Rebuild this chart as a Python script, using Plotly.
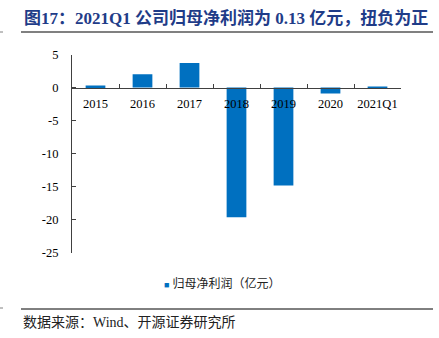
import plotly.graph_objects as go

categories = ["2015", "2016", "2017", "2018", "2019", "2020", "2021Q1"]
profit = [0.3, 2.0, 3.7, -19.6, -14.8, -0.9, 0.13]
series_name = "归母净利润（亿元）"
y_ticks = [5, 0, -5, -10, -15, -20, -25]
bar_color = "#0070C0"

W, H = 439, 338
def px(x): return x / W
def py(y): return 1 - y / H

fig = go.Figure()
fig.add_trace(go.Bar(
    x=categories, y=profit, name=series_name,
    marker=dict(color=bar_color, line=dict(width=0)),
    width=0.42, showlegend=False,
))

y_top, y_bot = 54.5, 253
zero_pos = py(y_bot) + (25 / 30) * (py(y_top) - py(y_bot))

serif = "Liberation Serif, Noto Sans CJK SC, serif"
fig.update_layout(
    width=W, height=H,
    margin=dict(l=0, r=0, t=0, b=0),
    paper_bgcolor="white", plot_bgcolor="white",
    font=dict(family=serif, color="#000000", size=12),
    xaxis=dict(domain=[px(72), px(401)], anchor="free", position=zero_pos,
               showline=True, linecolor="#404040", linewidth=1,
               ticks="inside", ticklen=4, tickcolor="#404040", tickson="boundaries",
               tickfont=dict(size=12.5, family=serif), tickangle=0,
               showgrid=False, zeroline=False,
               ticklabelstandoff=4, automargin=False),
    yaxis=dict(domain=[py(y_bot), py(y_top)], range=[-25, 5],
               tickvals=y_ticks, ticktext=[str(v) for v in y_ticks],
               showline=True, linecolor="#404040", linewidth=1,
               ticks="inside", ticklen=4, tickcolor="#404040",
               tickfont=dict(size=12.5, family=serif), showgrid=False, zeroline=False,
               ticklabelstandoff=10, automargin=False),
)

fig.add_annotation(
    x=px(22), y=py(18), xref="paper", yref="paper", xanchor="left", yanchor="middle",
    text="<b>图17：2021Q1 公司归母净利润为 0.13 亿元，扭负为正</b>",
    showarrow=False, font=dict(size=17, color="#1F3C88", family=serif),
)
# legend
fig.add_annotation(
    x=px(162), y=py(283), xref="paper", yref="paper", xanchor="left", yanchor="middle",
    text=f"<span style='color:{bar_color};font-size:9px'>■</span> {series_name}",
    showarrow=False, font=dict(size=12, color="#222", family=serif),
)
fig.add_annotation(
    x=px(21), y=py(322), xref="paper", yref="paper", xanchor="left", yanchor="middle",
    text="数据来源：Wind、开源证券研究所",
    showarrow=False, font=dict(size=14, color="#222", family=serif),
)
fig.add_shape(type="line", xref="paper", yref="paper",
              x0=px(21), x1=px(433), y0=py(32), y1=py(32),
              line=dict(color="#808080", width=2))
fig.add_shape(type="line", xref="paper", yref="paper",
              x0=px(21), x1=px(433), y0=py(309), y1=py(309),
              line=dict(color="#000000", width=1))
fig.add_shape(type="line", xref="paper", yref="paper",
              x0=0, x1=px(3), y0=py(32), y1=py(32),
              line=dict(color="#808080", width=1))
fig.add_shape(type="line", xref="paper", yref="paper",
              x0=0, x1=px(3), y0=py(308), y1=py(308),
              line=dict(color="#808080", width=1))

fig.write_html("out.html")
